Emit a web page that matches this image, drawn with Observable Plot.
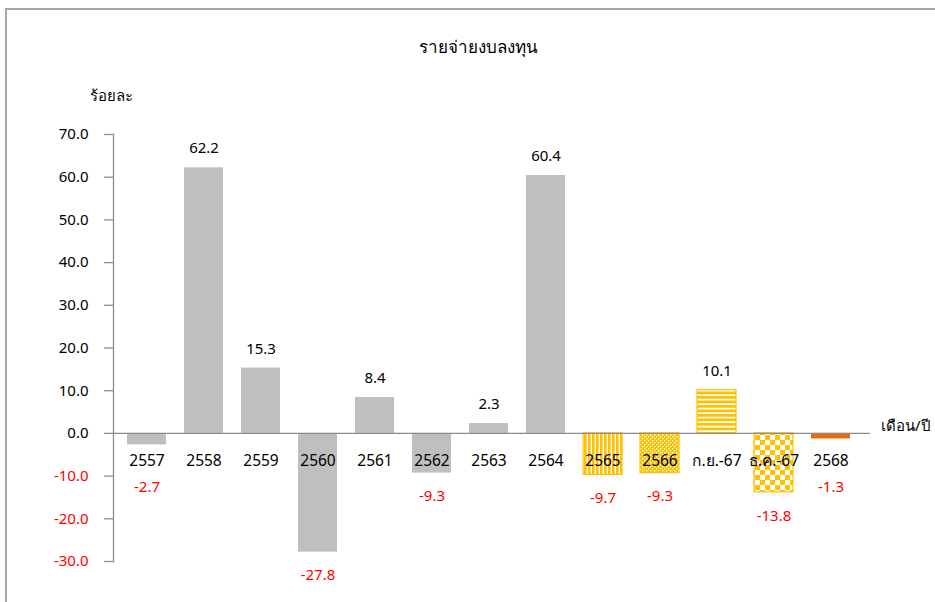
<!DOCTYPE html>
<html>
<head>
<meta charset="utf-8">
<script src="https://cdn.jsdelivr.net/npm/d3@7"></script>
<script src="https://cdn.jsdelivr.net/npm/@observablehq/plot@0.6"></script>
<style>
  html, body { margin: 0; padding: 0; background: #fff; }
  #wrap { position: relative; width: 935px; height: 602px; overflow: hidden; font-family: Tahoma, "Noto Sans", "DejaVu Sans", sans-serif; }
  #border { position: absolute; left: 5px; top: 8px; width: 1000px; height: 700px; border-top: 2px solid #a6a6a6; border-left: 2px solid #a6a6a6; }
  .lbl { position: absolute; white-space: nowrap; color: #000; }
  #title { left: 0; width: 956px; text-align: center; top: 36px; font-size: 17px; line-height: 22px; font-weight: 500; }
  #ylab { left: 90px; top: 84px; font-size: 15px; line-height: 22px; font-weight: 500; }
  #xlab { left: 881px; top: 414px; font-size: 15px; line-height: 22px; }
  #chart { position: absolute; left: 0; top: 0; }
</style>
</head>
<body>
<div id="wrap">
  <div id="border"></div>
  <div id="chart"></div>
  <div class="lbl" id="title">รายจ่ายงบลงทุน</div>
  <div class="lbl" id="ylab">ร้อยละ</div>
  <div class="lbl" id="xlab">เดือน/ปี</div>
</div>
<script>
const categories = ["2557","2558","2559","2560","2561","2562","2563","2564","2565","2566","ก.ย.-67","ธ.ค.-67","2568"];
const values = [-2.7, 62.2, 15.3, -27.8, 8.4, -9.3, 2.3, 60.4, -9.7, -9.3, 10.1, -13.8, -1.3];
const fillKinds = ["gray","gray","gray","gray","gray","gray","gray","gray","vstripe","dots","hstripe","check","orange"];
const yTicksPos = [0, 10, 20, 30, 40, 50, 60, 70];
const yTicksNeg = [-30, -20, -10];

const data = categories.map((c, i) => ({cat: c, v: values[i], kind: fillKinds[i]}));

const YELLOW = "#ffc000";
const fillFor = {
  gray: "#bfbfbf",
  vstripe: "url(#pVstripe)",
  dots: "url(#pDots)",
  hstripe: "url(#pHstripe)",
  check: "url(#pCheck)",
  orange: "#e46c0a"
};

const barMarks = Object.keys(fillFor).map(k => Plot.barY(data.filter(d => d.kind === k), {
  x: "cat", y: "v",
  fill: fillFor[k],
  stroke: (k === "gray" || k === "orange") ? "none" : YELLOW,
  strokeWidth: 1.2
}));

const plot = Plot.plot({
  width: 935,
  height: 602,
  marginLeft: 113,
  marginRight: 71,
  marginTop: 134,
  marginBottom: 41,
  style: {fontFamily: 'Tahoma, "Noto Sans", "DejaVu Sans", sans-serif', fontSize: "15px", background: "transparent", overflow: "visible"},
  x: {domain: categories, paddingInner: 0.31, paddingOuter: 0.155, axis: null},
  y: {domain: [-30, 70]},
  marks: [
    ...barMarks,
    Plot.ruleY([0], {stroke: "#8c8c8c", strokeWidth: 1.3, insetRight: -6}),
    Plot.frame({anchor: "left", stroke: "#8c8c8c", strokeWidth: 1.3}),
    Plot.axisY([...yTicksNeg, ...yTicksPos], {tickSize: 9, tickFormat: () => "", stroke: "#8c8c8c", strokeWidth: 1.3, label: null}),
    Plot.axisY(yTicksPos, {tickSize: 0, tickPadding: 25, tickFormat: d => d.toFixed(1), fill: "#000", fontSize: 15, label: null}),
    Plot.axisY(yTicksNeg, {tickSize: 0, tickPadding: 25, tickFormat: d => d.toFixed(1), fill: "#ff0000", fontSize: 15, label: null}),
    Plot.text(data, {x: "cat", y: 0, dy: 28, text: "cat", fill: "#000", fontSize: 15.5}),
    Plot.text(data.filter(d => d.v >= 0), {x: "cat", y: d => d.v + 4.5, text: d => d.v.toFixed(1), fill: "#000", fontSize: 15}),
    Plot.text(data.filter(d => d.v < 0), {x: "cat", y: d => Math.min(d.v - 5.5, -12.6), text: d => d.v.toFixed(1), fill: "#ff0000", fontSize: 15})
  ]
});

// pattern definitions
const ns = "http://www.w3.org/2000/svg";
const defs = document.createElementNS(ns, "defs");
defs.innerHTML = `
  <pattern id="pVstripe" patternUnits="userSpaceOnUse" width="4" height="4">
    <rect width="4" height="4" fill="#fff"/>
    <rect x="0" width="2.6" height="4" fill="${YELLOW}"/>
  </pattern>
  <pattern id="pDots" patternUnits="userSpaceOnUse" width="4" height="4">
    <rect width="4" height="4" fill="${YELLOW}"/>
    <rect x="0" y="0" width="1.4" height="1.4" fill="#fff"/>
    <rect x="2" y="2" width="1.4" height="1.4" fill="#fff"/>
  </pattern>
  <pattern id="pHstripe" patternUnits="userSpaceOnUse" width="4" height="4.5">
    <rect width="4" height="4.5" fill="#fff"/>
    <rect y="0" width="4" height="2.8" fill="${YELLOW}"/>
  </pattern>
  <pattern id="pCheck" patternUnits="userSpaceOnUse" width="10" height="10">
    <rect width="10" height="10" fill="#fff"/>
    <rect x="0" y="0" width="5" height="5" fill="${YELLOW}"/>
    <rect x="5" y="5" width="5" height="5" fill="${YELLOW}"/>
  </pattern>`;
plot.insertBefore(defs, plot.firstChild);
document.getElementById("chart").appendChild(plot);
</script>
</body>
</html>
